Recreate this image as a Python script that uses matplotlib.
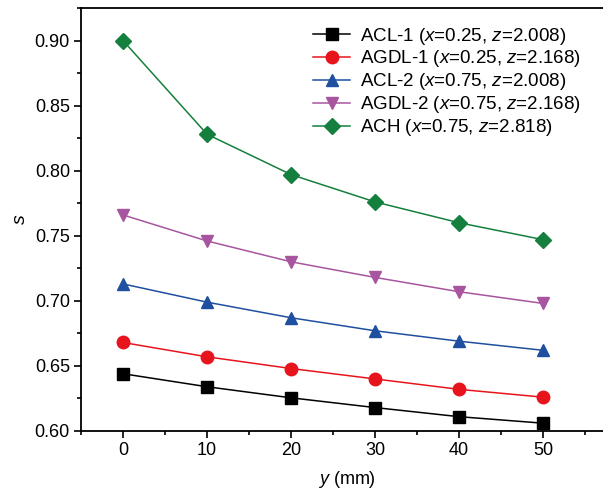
import matplotlib
matplotlib.use("Agg")
import matplotlib.pyplot as plt
from matplotlib.ticker import MultipleLocator

plt.rcParams['font.family'] = ['Liberation Sans', 'DejaVu Sans']
plt.rcParams['mathtext.fontset'] = 'custom'
plt.rcParams['mathtext.rm'] = 'Liberation Sans'
plt.rcParams['mathtext.it'] = 'Liberation Sans:italic'

y_mm = [0, 10, 20, 30, 40, 50]
acl1 = [0.644, 0.634, 0.6255, 0.618, 0.611, 0.606]
agdl1 = [0.668, 0.657, 0.648, 0.640, 0.632, 0.626]
acl2 = [0.713, 0.699, 0.687, 0.677, 0.669, 0.662]
agdl2 = [0.766, 0.746, 0.730, 0.718, 0.707, 0.698]
ach = [0.900, 0.828, 0.797, 0.776, 0.760, 0.747]

labels = [
    r"ACL-1 ($\it{x}$=0.25, $\it{z}$=2.008)",
    r"AGDL-1 ($\it{x}$=0.25, $\it{z}$=2.168)",
    r"ACL-2 ($\it{x}$=0.75, $\it{z}$=2.008)",
    r"AGDL-2 ($\it{x}$=0.75, $\it{z}$=2.168)",
    r"ACH ($\it{x}$=0.75, $\it{z}$=2.818)",
]
series = [acl1, agdl1, acl2, agdl2, ach]
colors = ['#000000', '#e8141c', '#1f4fa0', '#a855a0', '#15803d']
markers = ['s', 'o', '^', 'v', 'D']
msizes = [8.5, 9, 9, 9, 8]

fig = plt.figure(figsize=(6.03, 4.94), dpi=100)
W, H = 603, 494
left, right, top, bottom = 81, 612, 8, 431
ax = fig.add_axes([left / W, (H - bottom) / H, (right - left) / W, (bottom - top) / H])

for s, c, m, ms, lab in zip(series, colors, markers, msizes, labels):
    ax.plot(y_mm, s, color=c, marker=m, markersize=ms, linewidth=1.1, label=lab)

ax.set_xlim(-5, 58.2)
ax.set_ylim(0.6, 0.925)
ax.set_xticks(y_mm)
ax.xaxis.set_minor_locator(MultipleLocator(5))
ax.set_yticks([0.60, 0.65, 0.70, 0.75, 0.80, 0.85, 0.90])
ax.set_yticklabels(["0.60", "0.65", "0.70", "0.75", "0.80", "0.85", "0.90"])
ax.yaxis.set_minor_locator(MultipleLocator(0.025))
ax.tick_params(which='major', direction='out', length=5, width=1.2, labelsize=13, pad=3)
ax.tick_params(which='minor', direction='out', length=3, width=1.2)
for sp in ax.spines.values():
    sp.set_linewidth(1.3)

ax.set_xlabel(r"$\it{y}$ (mm)", fontsize=13, labelpad=7)
ax.set_ylabel(r"$\it{s}$", fontsize=14, labelpad=4)

leg = ax.legend(loc='upper right', bbox_to_anchor=(0.962, 0.985), frameon=False, fontsize=13.5,
                handlelength=2.0, handletextpad=0.5, labelspacing=0.1, borderaxespad=0.2)

fig.savefig("out.png", dpi=100)
